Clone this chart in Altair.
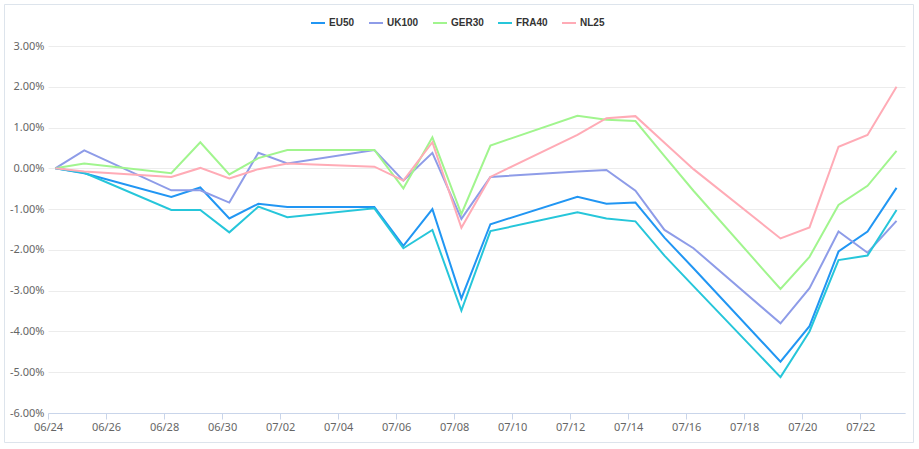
import altair as alt
import pandas as pd

dates = ["2021-06-24", "2021-06-25", "2021-06-28", "2021-06-29", "2021-06-30",
         "2021-07-01", "2021-07-02", "2021-07-05", "2021-07-06", "2021-07-07",
         "2021-07-08", "2021-07-09", "2021-07-12", "2021-07-13", "2021-07-14",
         "2021-07-15", "2021-07-16", "2021-07-19", "2021-07-20", "2021-07-21",
         "2021-07-22", "2021-07-23"]

series_names = ["EU50", "UK100", "GER30", "FRA40", "NL25"]
series_colors = ["#2196f3", "#8e9ce8", "#a1f58e", "#26c6da", "#ffabb6"]

eu50 = [0.00, -0.12, -0.70, -0.47, -1.23, -0.87, -0.95, -0.95, -1.90, -1.00,
        -3.19, -1.37, -0.70, -0.87, -0.84, -1.70, -2.45, -4.74, -3.87, -2.04,
        -1.55, -0.48]
uk100 = [0.00, 0.44, -0.54, -0.54, -0.84, 0.38, 0.12, 0.45, -0.30, 0.38,
         -1.24, -0.21, -0.08, -0.04, -0.55, -1.51, -1.96, -3.80, -2.94, -1.55,
         -2.07, -1.29]
ger30 = [0.00, 0.12, -0.12, 0.64, -0.15, 0.25, 0.45, 0.45, -0.49, 0.76,
         -1.12, 0.56, 1.29, 1.19, 1.16, 0.30, -0.55, -2.96, -2.17, -0.90,
         -0.43, 0.43]
fra40 = [0.00, -0.11, -1.02, -1.02, -1.57, -0.94, -1.20, -0.98, -1.96, -1.51,
         -3.49, -1.54, -1.08, -1.23, -1.30, -2.14, -2.89, -5.12, -4.00, -2.25,
         -2.14, -1.02]
nl25 = [0.00, -0.08, -0.21, 0.01, -0.25, -0.02, 0.12, 0.04, -0.30, 0.64,
        -1.46, -0.21, 0.82, 1.23, 1.28, 0.63, -0.02, -1.72, -1.45, 0.53,
        0.82, 2.00]

y_ticks = [-6, -5, -4, -3, -2, -1, 0, 1, 2, 3]
x_tick_dates = ["2021-06-24", "2021-06-26", "2021-06-28", "2021-06-30",
                "2021-07-02", "2021-07-04", "2021-07-06", "2021-07-08",
                "2021-07-10", "2021-07-12", "2021-07-14", "2021-07-16",
                "2021-07-18", "2021-07-20", "2021-07-22"]

values = [eu50, uk100, ger30, fra40, nl25]
rows = []
for name, vals in zip(series_names, values):
    for d, v in zip(dates, vals):
        rows.append({"date": pd.Timestamp(d) + pd.Timedelta(hours=6),
                     "series": name, "value": v})
df = pd.DataFrame(rows)


def to_dt(s, hours=0):
    t = pd.Timestamp(s)
    return alt.DateTime(year=t.year, month=t.month, date=t.day, hours=hours)


x_domain = [to_dt("2021-06-24"), to_dt("2021-07-23", hours=13)]
x_values = [to_dt(s) for s in x_tick_dates]

W, H = 857, 367
FONT = "Noto Sans"

lines = alt.Chart(df).mark_line(strokeWidth=2).encode(
    x=alt.X("date:T",
            scale=alt.Scale(domain=x_domain),
            axis=alt.Axis(values=x_values, format="%m/%d", title=None,
                          grid=False, domainColor="#c9d5ea", tickColor="#c9d5ea",
                          tickSize=6, labelColor="#666", labelFontSize=11,
                          labelFont=FONT, labelPadding=2, labelFlush=False)),
    y=alt.Y("value:Q",
            scale=alt.Scale(domain=[-6, 3], nice=False, zero=False),
            axis=alt.Axis(values=y_ticks, title=None, domain=False, ticks=False,
                          gridColor="#ececec", labelColor="#666", labelFontSize=11,
                          labelFont=FONT, labelPadding=4,
                          labelExpr="(datum.value < 0 ? '-' : '') + format(abs(datum.value), '.2f') + '%'")),
    color=alt.Color("series:N",
                    scale=alt.Scale(domain=series_names, range=series_colors),
                    legend=alt.Legend(orient="none", legendX=262, legendY=-31,
                                      direction="horizontal", columns=5, title=None,
                                      symbolType="stroke", symbolSize=196,
                                      symbolStrokeWidth=2, labelFontSize=10,
                                      labelFont="Liberation Sans", labelFontWeight="bold",
                                      labelColor="#333", labelOffset=3,
                                      columnPadding=10, padding=0)),
)

frame = alt.Chart(pd.DataFrame({"k": [0]})).mark_rect(
    filled=False, stroke="#dde4ec", strokeWidth=1
).encode(
    x=alt.value(-43.5), x2=alt.value(W + 8.5),
    y=alt.value(-41.5), y2=alt.value(H + 29.5),
)

chart = alt.layer(frame, lines).properties(
    width=W, height=H,
    autosize=alt.AutoSizeParams(type="none"),
    padding={"left": 48, "top": 46, "right": 14, "bottom": 36},
    background="white",
).configure_view(stroke=None)

chart.save("out.html", embed_options={"renderer": "svg", "actions": False})
